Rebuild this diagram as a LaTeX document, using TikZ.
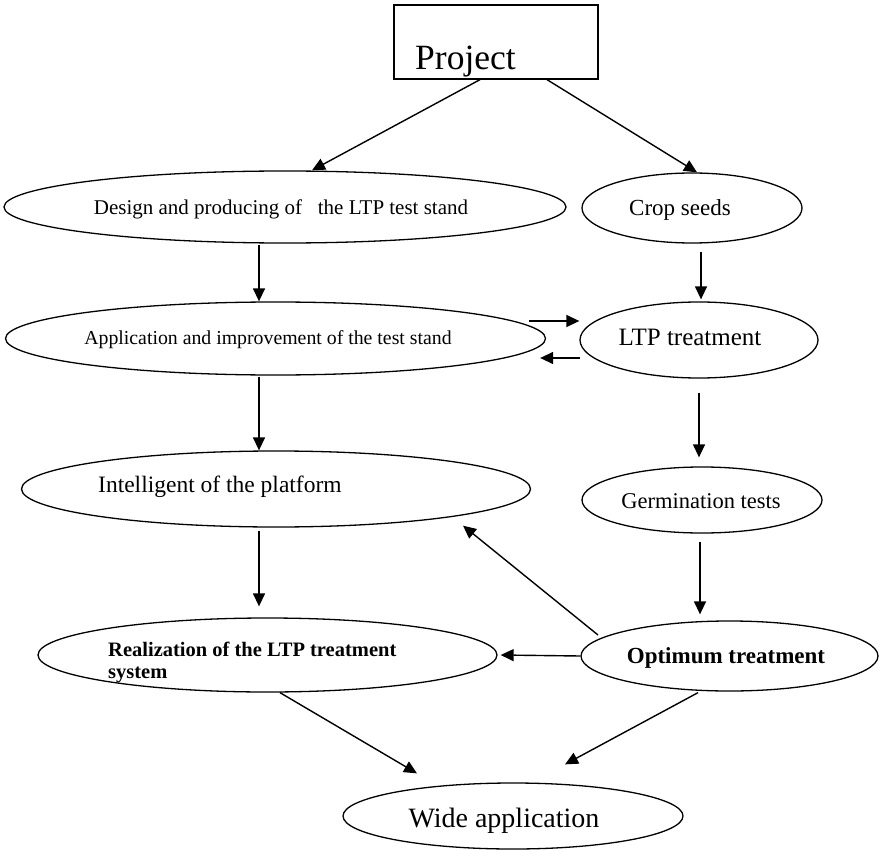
\documentclass[tikz,border=0pt]{standalone}
\usepackage{fontspec}
\setmainfont{Liberation Serif}
\usetikzlibrary{arrows.meta,shapes.geometric,calc}
\newcommand\fsz[1]{\fontsize{#1}{#1}\selectfont}
\begin{document}
\begin{tikzpicture}[x=1pt,y=-1pt,
  ell/.style={draw,ellipse,line width=1.3pt,inner sep=0pt},
  txt/.style={inner sep=0pt,anchor=base},
  arr/.style={line width=1.4pt,-{Triangle[length=13pt,width=12pt]}}]
\useasboundingbox (0,0) rectangle (880,850);
% boxes
\node[draw,line width=1.3pt,minimum width=204pt,minimum height=74pt,inner sep=0pt] (proj) at (496,42) {};
\node[txt,anchor=base west] (projT) at (415,70) {\fsz{35.5}Project};
\node[ell,minimum width=562pt,minimum height=72pt] (des) at (285,207) {};
\node[txt] (desT) at (281,215) {\fsz{21}Design and producing of \ \ the LTP test stand};
\node[ell,minimum width=220pt,minimum height=70pt] (crop) at (692,208) {};
\node[txt] (cropT) at (680,216) {\fsz{23}Crop seeds};
\node[ell,minimum width=540pt,minimum height=73pt] (app) at (275.5,338.5) {};
\node[txt] (appT) at (268,344) {\fsz{19.8}Application and improvement of the test stand};
\node[ell,minimum width=238pt,minimum height=76pt] (ltp) at (699,340) {};
\node[txt] (ltpT) at (690,345) {\fsz{25}LTP treatment};
\node[ell,minimum width=509pt,minimum height=76pt] (intel) at (276,489) {};
\node[txt,anchor=base west] (intelT) at (98,492) {\fsz{23.5}Intelligent of the platform};
\node[ell,minimum width=240pt,minimum height=66pt] (germ) at (702,500) {};
\node[txt] (germT) at (701,508) {\fsz{22.5}Germination tests};
\node[ell,minimum width=459pt,minimum height=74pt] (real) at (267.5,655) {};
\node[inner sep=0pt,anchor=north west,align=left,font=\fontsize{20.5}{22}\selectfont\bfseries] (realT) at (108,642) {Realization of the LTP treatment\\system};
\node[ell,minimum width=297pt,minimum height=70pt] (opt) at (729.5,656) {};
\node[txt] (optT) at (726,663) {\fsz{23}\bfseries Optimum treatment};
\node[ell,minimum width=340pt,minimum height=66pt] (wide) at (513,816) {};
\node[txt] (wideT) at (504,827) {\fsz{28}Wide application};
% connectors
\draw[arr] ($(proj.south)+(-16,0)$) -- ($(des.north)+(27,0)$);
\draw[arr] ($(proj.south)+(51,0)$) -- ($(crop.north)+(5,0)$);
\draw[arr] ($(des.center)+(-26,38)$) -- ($(app.north)+(-16.5,0)$);
\draw[arr] ($(crop.center)+(9,44)$) -- ($(ltp.north)+(2,-2)$);
\draw[arr] ($(app.center)+(253.5,-17.5)$) -- ($(ltp.west)+(0,-19)$);
\draw[arr] ($(ltp.west)+(1,18)$) -- ($(app.east)+(-6,19.5)$);
\draw[arr] ($(app.south)+(-16.5,1)$) -- ($(intel.north)+(-17,0)$);
\draw[arr] ($(ltp.south)+(0,14)$) -- ($(germ.north)+(-3,-9)$);
\draw[arr] ($(intel.south)+(-17,3)$) -- ($(real.north)+(-8.5,-11)$);
\draw[arr] ($(germ.south)+(-2,8)$) -- ($(opt.north)+(-29.5,-6)$);
\draw[arr] ($(opt.center)+(-131.5,-21)$) -- ($(intel.south)+(187,-2)$);
\draw[arr] (opt.west) -- ($(real.east)+(3,0)$);
\draw[arr] ($(real.south)+(12.5,0)$) -- ($(wide.north)+(-96,-9)$);
\draw[arr] ($(opt.south)+(-31.5,1)$) -- ($(wide.north)+(52,-18)$);
\end{tikzpicture}
\end{document}
